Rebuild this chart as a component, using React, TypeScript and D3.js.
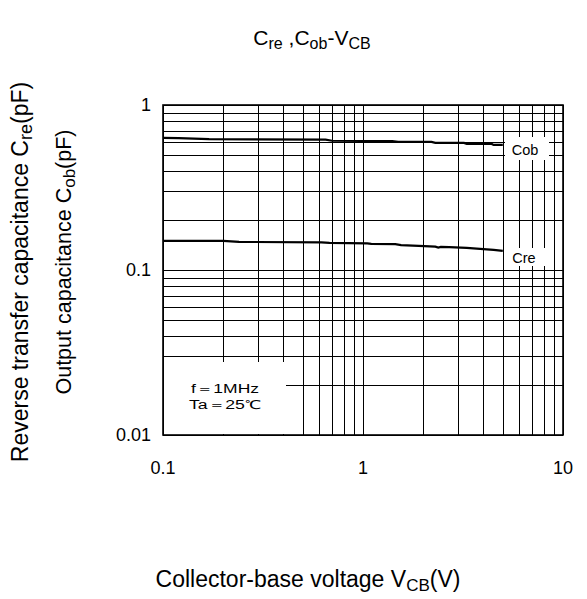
import React from "react";
import * as d3 from "d3";

const W = 587;
const H = 599;

// Cob (output capacitance) vs VCB
const cobV = [0.1, 0.12, 0.17, 0.65, 0.7, 1.4, 1.5, 2.2, 2.3, 3.2, 3.3, 4.4, 4.5, 5.0];
const cobC = [0.632, 0.63, 0.621, 0.616, 0.607, 0.604, 0.598, 0.597, 0.59, 0.589, 0.582, 0.581, 0.573, 0.573];

// Cre (reverse transfer capacitance) vs VCB
const creV = [0.1, 0.2, 0.24, 0.62, 0.68, 1.05, 1.1, 1.45, 1.55, 1.9, 2.3, 2.38, 2.45, 2.7, 3.3, 4.0, 4.5, 5.0];
const creC = [0.15, 0.15, 0.148, 0.147, 0.146, 0.145, 0.144, 0.1435, 0.1415, 0.14, 0.1385, 0.1368, 0.138, 0.1375, 0.136, 0.134, 0.1325, 0.1305];

const xTicks = [0.1, 1, 10];
const xTickLabels = ["0.1", "1", "10"];
const yTicks = [0.01, 0.1, 1];
const yTickLabels = ["0.01", "0.1", "1"];

const FONT = "'Liberation Sans', Arial, Helvetica, sans-serif";

export default function App() {
  const x = d3.scaleLog().domain([0.1, 10]).range([163, 563]);
  const y = d3.scaleLog().domain([0.01, 1]).range([435, 105]);

  const xGrid: number[] = [];
  for (const dec of [0.1, 1]) for (let m = 1; m <= 9; m++) xGrid.push(dec * m);
  xGrid.push(10);
  const yGrid: number[] = [];
  for (const dec of [0.01, 0.1]) for (let m = 1; m <= 9; m++) yGrid.push(dec * m);
  yGrid.push(1);

  const line = d3
    .line<[number, number]>()
    .x((d) => x(d[0]))
    .y((d) => y(d[1]));
  const cobData = cobV.map((v, i) => [v, cobC[i]] as [number, number]);
  const creData = creV.map((v, i) => [v, creC[i]] as [number, number]);

  const px = (v: number) => Math.round(v) + 0.5;

  return (
    <svg
      width={W}
      height={H}
      style={{ position: "absolute", left: 0, top: 0, background: "#fff" }}
      fontFamily={FONT}
    >
      <rect x={0} y={0} width={W} height={H} fill="#fff" />
      {/* grid */}
      {xGrid.map((g, i) => (
        <line key={"vx" + i} x1={px(x(g))} x2={px(x(g))} y1={y(1)} y2={y(0.01)} stroke="#000" strokeWidth={1} />
      ))}
      {yGrid.map((g, i) => (
        <line key={"hy" + i} x1={x(0.1)} x2={x(10)} y1={px(y(g))} y2={px(y(g))} stroke="#000" strokeWidth={1} />
      ))}
      {/* annotation box */}
      <rect x={x(0.1) + 1} y={362} width={286 - x(0.1) - 1} height={y(0.01) - 362 - 1} fill="#fff" />
      <text x={225} y={393} fontSize={12} textAnchor="middle" textLength={68} lengthAdjust="spacingAndGlyphs">
        f＝1MHz
      </text>
      <text x={225} y={409} fontSize={12} textAnchor="middle" textLength={72} lengthAdjust="spacingAndGlyphs">
        Ta＝25℃
      </text>
      {/* frame */}
      <rect x={x(0.1)} y={y(1)} width={x(10) - x(0.1)} height={y(0.01) - y(1)} fill="none" stroke="#000" strokeWidth={1.6} />
      {/* series */}
      <path d={line(cobData) || ""} fill="none" stroke="#000" strokeWidth={2.2} />
      <path d={line(creData) || ""} fill="none" stroke="#000" strokeWidth={2.2} />
      {/* series labels */}
      <rect x={505} y={137} width={44} height={23} fill="#fff" />
      <text x={525} y={155} fontSize={14.5} textAnchor="middle">Cob</text>
      <rect x={505} y={248} width={42} height={18} fill="#fff" />
      <text x={524} y={263} fontSize={14.5} textAnchor="middle">Cre</text>
      {/* tick labels */}
      {xTicks.map((t, i) => (
        <text key={"xt" + i} x={x(t)} y={474} fontSize={18} textAnchor="middle">
          {xTickLabels[i]}
        </text>
      ))}
      {yTicks.map((t, i) => (
        <text key={"yt" + i} x={151} y={y(t) + 6} fontSize={18} textAnchor="end">
          {yTickLabels[i]}
        </text>
      ))}
      {/* title */}
      <text x={312} y={45} fontSize={21} textAnchor="middle">
        C<tspan fontSize={16} dy={4}>re</tspan>
        <tspan dy={-4}> ,C</tspan>
        <tspan fontSize={16} dy={4}>ob</tspan>
        <tspan dy={-4}>-V</tspan>
        <tspan fontSize={16} dy={4}>CB</tspan>
      </text>
      {/* x label */}
      <text x={308} y={587} fontSize={23} textAnchor="middle">
        Collector-base voltage V<tspan fontSize={17} dy={4}>CB</tspan>
        <tspan dy={-4}>(V)</tspan>
      </text>
      {/* y labels */}
      <g transform="translate(28,272) rotate(-90)">
        <text fontSize={23} textAnchor="middle">
          Reverse transfer capacitance C<tspan fontSize={18} dy={4}>re</tspan>
          <tspan dy={-4}>(pF)</tspan>
        </text>
      </g>
      <g transform="translate(71,262) rotate(-90)">
        <text fontSize={21.5} textAnchor="middle">
          Output capacitance C<tspan fontSize={17} dy={4}>ob</tspan>
          <tspan dy={-4}>(pF)</tspan>
        </text>
      </g>
    </svg>
  );
}
